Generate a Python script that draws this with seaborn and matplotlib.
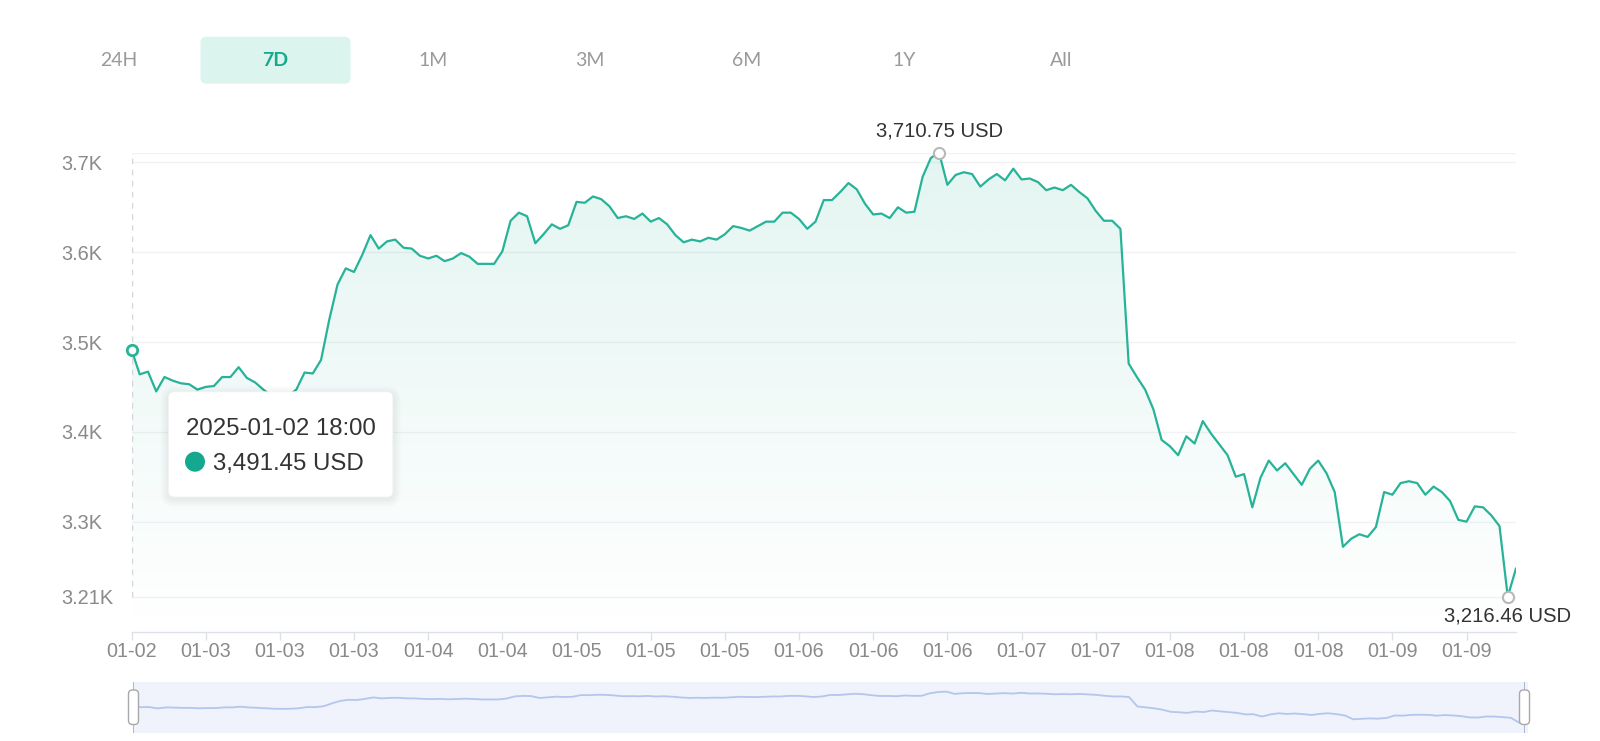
import numpy as np
import pandas as pd
import seaborn as sns
import matplotlib.pyplot as plt
import matplotlib.colors as mcolors
from matplotlib.patches import FancyBboxPatch, Circle, PathPatch, Rectangle
from matplotlib.transforms import IdentityTransform

# hourly price, starting 2025-01-02 18:00 (7D view)
prices = [
    3491.45, 3464, 3467, 3445, 3461, 3457, 3454, 3453, 3447, 3450,
    3451, 3461, 3461, 3472, 3460, 3455, 3447, 3440, 3438, 3440,
    3447, 3466, 3465, 3480, 3525, 3564, 3582, 3578, 3597, 3619,
    3604, 3612, 3614, 3605, 3604, 3596, 3593, 3596, 3590, 3593,
    3599, 3595, 3587, 3587, 3587, 3601, 3635, 3644, 3640, 3610,
    3620, 3631, 3626, 3630, 3656, 3655, 3662, 3659, 3651, 3638,
    3640, 3637, 3643, 3634, 3638, 3631, 3619, 3611, 3614, 3612,
    3616, 3614, 3620, 3629, 3627, 3624, 3629, 3634, 3634, 3644,
    3644, 3637, 3626, 3634, 3658, 3658, 3667, 3677, 3670, 3654,
    3642, 3643, 3638, 3650, 3644, 3645, 3684, 3705, 3710.75, 3675,
    3686, 3689, 3687, 3673, 3681, 3687, 3680, 3693, 3681, 3682,
    3678, 3669, 3672, 3669, 3675, 3667, 3660, 3646, 3635, 3635,
    3626, 3476, 3461, 3447, 3425, 3391, 3384, 3374, 3395, 3387,
    3412, 3398, 3386, 3374, 3350, 3353, 3316, 3349, 3368, 3357,
    3365, 3353, 3341, 3359, 3368, 3354, 3333, 3272, 3281, 3286,
    3283, 3294, 3333, 3330, 3343, 3345, 3343, 3330, 3339, 3333,
    3323, 3302, 3300, 3317, 3316, 3307, 3295, 3216.46, 3248,
]

x_tick_labels = ["01-02", "01-03", "01-03", "01-03", "01-04", "01-04",
                 "01-05", "01-05", "01-05", "01-06", "01-06", "01-06",
                 "01-07", "01-07", "01-08", "01-08", "01-08", "01-09", "01-09"]
x_tick_step = 9
y_ticks = [3216.46, 3300, 3400, 3500, 3600, 3700]
y_tick_labels = ["3.21K", "3.3K", "3.4K", "3.5K", "3.6K", "3.7K"]
tabs = ["24H", "7D", "1M", "3M", "6M", "1Y", "All"]
active_tab = "7D"
tooltip_time = "2025-01-02 18:00"
unit = "USD"

W, H = 1600, 741
LINE = "#27b398"
DOT = "#14a88f"
GRAY_TXT = "#8a8a8a"
AXIS_CLR = "#dde1e8"

sns.set_theme(style="white")
plt.rcParams["font.family"] = ["Liberation Sans", "DejaVu Sans"]

df = pd.DataFrame({"hour": np.arange(len(prices)), "price": prices})
n = len(df)
i_max, i_min = df.price.idxmax(), df.price.idxmin()
vmax, vmin = df.price.max(), df.price.min()


def fx(x):
    return x / W


def fy(y):
    return 1 - y / H


fig = plt.figure(figsize=(W / 100, H / 100), dpi=100)
fig.patch.set_facecolor("white")

# main plot area: top = max value, min value sits 35px above the axis line
top_px, min_px, axis_px = 152.7, 596.7, 631.7
px_per_unit = (min_px - top_px) / (vmax - vmin)
ybot = vmin - (axis_px - min_px) / px_per_unit

ax = fig.add_axes([fx(131.5), fy(axis_px), fx(1516) - fx(131.5), fy(top_px) - fy(axis_px)])
ax.set_facecolor("white")

for t in y_ticks + [vmax]:
    ax.axhline(t, color="#f1f2f4", lw=1, zorder=0)

# gradient area under the line
grad = np.zeros((256, 1, 4))
grad[..., :3] = mcolors.to_rgb(LINE)
grad[..., 3] = np.linspace(0.13, 0.0, 256)[:, None]
im = ax.imshow(grad, aspect="auto", extent=[0, n - 1, ybot, vmax], origin="upper", zorder=1)
area = ax.fill_between(df.hour, df.price, ybot, color="none", lw=0)
clip = PathPatch(area.get_paths()[0], transform=ax.transData, fc="none", ec="none")
ax.add_patch(clip)
im.set_clip_path(clip)

sns.lineplot(data=df, x="hour", y="price", ax=ax, color=LINE, lw=1.6, zorder=4)
ax.lines[-1].set_solid_joinstyle("round")

# hover pointer on the first point
ax.plot([0, 0], [vmin, vmax], ls=(0, (4, 4)), color="#d5d5d5", lw=1, zorder=2)
ax.plot(0, prices[0], "o", ms=7.5, mfc="white", mec=LINE, mew=2, zorder=6, clip_on=False)

# max / min markers
for idx, val, dy in [(i_max, vmax, 11.4), (i_min, vmin, -17.9)]:
    ax.plot(idx, val, "o", ms=8, mfc="white", mec="#b8b8b8", mew=1.5, zorder=6, clip_on=False)
    ax.annotate(f"{val:,.2f} {unit}", xy=(idx, val), xytext=(0, dy), textcoords="offset points",
                ha="center", va="baseline", fontsize=14.6, color="#333333", zorder=7,
                annotation_clip=False)

ax.set_xlim(0, n - 1)
ax.set_ylim(ybot, vmax)
ax.set_xticks(range(0, n, x_tick_step))
ax.set_xticklabels(x_tick_labels)
ax.set_yticks(y_ticks)
ax.set_yticklabels(y_tick_labels)
ax.set_xlabel("")
ax.set_ylabel("")
ax.grid(False)
for s in ["top", "right", "left"]:
    ax.spines[s].set_visible(False)
ax.spines["bottom"].set_color(AXIS_CLR)
ax.spines["bottom"].set_linewidth(1)
ax.tick_params(axis="x", length=5.8, width=1, color=AXIS_CLR, pad=1.5, labelsize=14.2,
               labelcolor=GRAY_TXT, direction="out", bottom=True)
ax.tick_params(axis="y", length=0, pad=70.5 * 0.72, labelsize=14.4, labelcolor=GRAY_TXT)
for lbl in ax.get_yticklabels():
    lbl.set_horizontalalignment("left")

# range tabs
tab_x0, tab_step = 118.4, 157.1
for k, tab in enumerate(tabs):
    cx = tab_x0 + k * tab_step
    active = tab == active_tab
    if active:
        fig.add_artist(FancyBboxPatch((cx - 75, H - 83.7), 150, 47,
                                      boxstyle="round,pad=0,rounding_size=6",
                                      fc="#dcf4ee", ec="none", transform=IdentityTransform()))
    fig.text(fx(cx), fy(60.5), tab, ha="center", va="center", fontsize=14,
             color="#17a98b" if active else "#9a9a9a", weight="bold" if active else "normal",
             family=["Lato", "DejaVu Sans"])

# tooltip
tx0, ty0, tx1, ty1 = 168.4, 391.8, 392.9, 497.0
for k in range(1, 9):
    fig.add_artist(FancyBboxPatch((tx0 - k, H - ty1 - k - 2), tx1 - tx0 + 2 * k, ty1 - ty0 + 2 * k,
                                  boxstyle="round,pad=0,rounding_size=%d" % (6 + k),
                                  fc="black", ec="none", alpha=0.009, transform=IdentityTransform()))
fig.add_artist(FancyBboxPatch((tx0, H - ty1), tx1 - tx0, ty1 - ty0,
                              boxstyle="round,pad=0,rounding_size=6",
                              fc="white", ec="#f2f2f2", lw=0.6, transform=IdentityTransform()))
fig.add_artist(Circle((195, H - 461.7), 10, fc=DOT, ec="none", transform=IdentityTransform()))
fig.text(fx(186), fy(435.3), tooltip_time, ha="left", va="baseline", fontsize=17.3, color="#333333")
fig.text(fx(213.3), fy(470.3), f"{prices[0]:,.2f} {unit}", ha="left", va="baseline",
         fontsize=17.3, color="#333333")

# data zoom slider
sl = fig.add_axes([fx(132.7), fy(732.7), fx(1527.6) - fx(132.7), fy(681.6) - fy(732.7)])
sl.set_facecolor("#f0f3fb")
sns.lineplot(data=df, x="hour", y="price", ax=sl, color="#b3c6ee", lw=1.3)
sl.set_xlim(0, n - 1)
sl.set_ylim(3060, 3870)
sl.set_xticks([])
sl.set_yticks([])
sl.set_xlabel("")
sl.set_ylabel("")
for s in sl.spines.values():
    s.set_visible(False)
for hx in [133.5, 1524.5]:
    fig.add_artist(Rectangle((hx - 0.5, H - 732.7), 1, 51, fc="#aab8d6", ec="none",
                             transform=IdentityTransform()))
    fig.add_artist(FancyBboxPatch((hx - 5, H - 724.5), 10, 34.5,
                                  boxstyle="round,pad=0,rounding_size=4",
                                  fc="white", ec="#a8a8a8", lw=1, transform=IdentityTransform()))

fig.savefig("out.png", dpi=100, facecolor="white")
